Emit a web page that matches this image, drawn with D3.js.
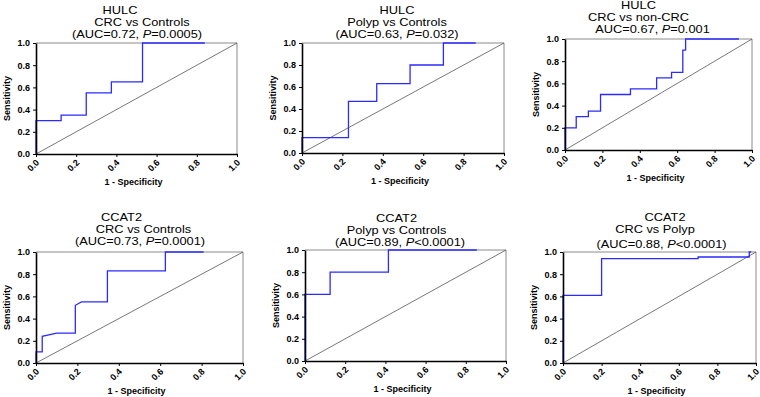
<!DOCTYPE html>
<html>
<head>
<meta charset="utf-8">
<script src="https://cdn.jsdelivr.net/npm/d3@7"></script>
<style>
  body { margin: 0; background: #fff; }
  svg { display: block; font-family: "Liberation Sans", Arial, sans-serif; }
</style>
</head>
<body>
<div id="chart"></div>
<script>
// gene + comparison of each panel
const genes = ["HULC", "HULC", "HULC", "CCAT2", "CCAT2", "CCAT2"];
const comparisons = ["CRC vs Controls", "Polyp vs Controls", "CRC vs non-CRC", "CRC vs Controls", "Polyp vs Controls", "CRC vs Polyp"];
const aucValues = ["0.72", "0.63", "0.67", "0.73", "0.89", "0.88"];
const pValues = ["=0.0005", "=0.032", "=0.001", "=0.0001", "<0.0001", "<0.0001"];
const withParens = [true, true, false, true, true, true];

// ROC curves: 1 - specificity (x) and sensitivity (y)
const hulcCrcCtrlX = [0, 0, 0.125, 0.125, 0.25, 0.25, 0.375, 0.375, 0.53, 0.53, 0.84];
const hulcCrcCtrlY = [0, 0.30, 0.30, 0.35, 0.35, 0.55, 0.55, 0.65, 0.65, 1.0, 1.0];
const hulcPolypCtrlX = [0, 0, 0.23, 0.23, 0.37, 0.37, 0.535, 0.535, 0.70, 0.70, 0.86];
const hulcPolypCtrlY = [0, 0.14, 0.14, 0.47, 0.47, 0.63, 0.63, 0.80, 0.80, 1.0, 1.0];
const hulcCrcNonX = [0, 0, 0.06, 0.06, 0.125, 0.125, 0.19, 0.19, 0.35, 0.35, 0.49, 0.49, 0.57, 0.57, 0.63, 0.63, 0.645, 0.645, 0.93];
const hulcCrcNonY = [0, 0.2, 0.2, 0.3, 0.3, 0.35, 0.35, 0.5, 0.5, 0.55, 0.55, 0.65, 0.65, 0.7, 0.7, 0.9, 0.9, 1.0, 1.0];
const ccatCrcCtrlX = [0, 0, 0.03, 0.03, 0.10, 0.19, 0.19, 0.22, 0.345, 0.345, 0.625, 0.625, 0.81];
const ccatCrcCtrlY = [0, 0.10, 0.10, 0.24, 0.27, 0.27, 0.52, 0.55, 0.55, 0.83, 0.83, 1.0, 1.0];
const ccatPolypCtrlX = [0, 0, 0.125, 0.125, 0.415, 0.415, 0.855];
const ccatPolypCtrlY = [0, 0.6, 0.6, 0.8, 0.8, 1.0, 1.0];
const ccatCrcPolypX = [0, 0, 0.2, 0.2, 0.70, 0.70, 0.965, 0.965, 0.975];
const ccatCrcPolypY = [0, 0.61, 0.61, 0.94, 0.94, 0.955, 0.955, 1.0, 1.0];

const curvesX = [hulcCrcCtrlX, hulcPolypCtrlX, hulcCrcNonX, ccatCrcCtrlX, ccatPolypCtrlX, ccatCrcPolypX];
const curvesY = [hulcCrcCtrlY, hulcPolypCtrlY, hulcCrcNonY, ccatCrcCtrlY, ccatPolypCtrlY, ccatCrcPolypY];

const tickValues = [0, 0.2, 0.4, 0.6, 0.8, 1.0];

// plot boxes [left, right, top, bottom] and title offsets (dx, dy per line)
const boxes = [
  [36, 237, 43, 154],
  [302, 504, 43, 153],
  [565, 752, 39, 150],
  [36, 243, 252, 363],
  [305, 506, 250, 361],
  [563, 756, 252, 363]
];
const titleDx = [[-16.5, 5.5, 0.5], [-6, -6, -6], [-20, -20, -6], [-18, 4, 0.5], [-9, -9, -5.5], [5.5, -4.5, 2]];
const titleDy = [[-33, -21, -9], [-33, -21, -9], [-34, -22, -10], [-35, -23, -11], [-32, -20, -8], [-35, -23, -8]];

const svg = d3.select("#chart").append("svg").attr("width", 760).attr("height", 397);

// titles in the picture look horizontally stretched
function titleText(g, x, y) {
  return g.append("text")
    .attr("transform", `translate(${x},${y}) scale(1.22,1)`)
    .attr("text-anchor", "middle")
    .style("font-size", "10.5px");
}

genes.forEach((gene, i) => {
  const [l, r, t, b] = boxes[i];
  const x = d3.scaleLinear().domain([0, 1]).range([l, r]);
  const y = d3.scaleLinear().domain([0, 1]).range([b, t]);
  const g = svg.append("g");

  // top/right frame
  g.append("path")
    .attr("d", `M${x(0)},${y(1)}H${x(1)}V${y(0)}`)
    .attr("fill", "none")
    .attr("stroke", "#8a8a8a")
    .attr("stroke-width", 1);

  // chance line
  g.append("line")
    .attr("x1", x(0)).attr("y1", y(0))
    .attr("x2", x(1)).attr("y2", y(1))
    .attr("stroke", "#555")
    .attr("stroke-width", 0.8);

  // ROC curve
  const pts = curvesX[i].map((v, k) => [v, curvesY[i][k]]);
  g.append("path")
    .datum(pts)
    .attr("d", d3.line().x(d => x(d[0])).y(d => y(d[1])))
    .attr("fill", "none")
    .attr("stroke", "#2b2bff")
    .attr("stroke-width", 1.3);

  // axes
  const xAxis = g.append("g")
    .attr("transform", "translate(0," + b + ")")
    .call(d3.axisBottom(x).tickValues(tickValues).tickFormat(d3.format(".1f")).tickSize(3).tickSizeOuter(0));
  xAxis.selectAll("text")
    .attr("x", 0)
    .attr("y", 0)
    .attr("dy", "0.35em")
    .attr("transform", "translate(1,7) rotate(-45)")
    .style("text-anchor", "end");
  const yAxis = g.append("g")
    .attr("transform", "translate(" + l + ",0)")
    .call(d3.axisLeft(y).tickValues(tickValues).tickFormat(d3.format(".1f")).tickSize(3).tickPadding(3).tickSizeOuter(0));
  [xAxis, yAxis].forEach(a => {
    a.select(".domain").attr("stroke", "#000").attr("stroke-width", 1.6);
    a.selectAll(".tick line").attr("stroke", "#000").attr("stroke-width", 1);
    a.selectAll("text")
      .attr("fill", "#000")
      .style("font-size", "9px")
      .style("font-weight", "bold")
      .style("font-family", "'Liberation Sans', Arial, sans-serif");
  });

  // axis titles
  g.append("text")
    .attr("x", (l + r) / 2 - 3)
    .attr("y", b + 31)
    .attr("text-anchor", "middle")
    .style("font-size", "9px")
    .style("font-weight", "bold")
    .text("1 - Specificity");
  g.append("text")
    .attr("transform", `translate(${l - 26},${(t + b) / 2}) rotate(-90)`)
    .attr("text-anchor", "middle")
    .style("font-size", "9px")
    .style("font-weight", "bold")
    .text("Sensitivity");

  // three title lines
  const cx = (l + r) / 2;
  [gene, comparisons[i]].forEach((s, k) => {
    titleText(g, cx + titleDx[i][k], t + titleDy[i][k] + 4).text(s);
  });
  const auc = titleText(g, cx + titleDx[i][2], t + titleDy[i][2] + 4);
  auc.append("tspan").text((withParens[i] ? "(" : "") + "AUC=" + aucValues[i] + ", ");
  auc.append("tspan").style("font-style", "italic").text("P");
  auc.append("tspan").text(pValues[i] + (withParens[i] ? ")" : ""));
});
</script>
</body>
</html>
